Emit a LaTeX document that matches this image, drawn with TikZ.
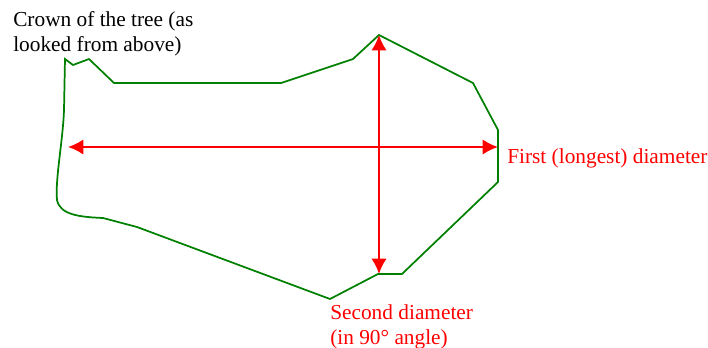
\documentclass[tikz,border=0pt]{standalone}
\usepackage{fontspec}
\setmainfont{Liberation Serif}
\usetikzlibrary{arrows.meta,positioning}
\definecolor{crowngreen}{RGB}{0,128,0}
\tikzset{
  crown/.style={draw=crowngreen, line width=1.3pt, line join=miter},
  diam/.style={{Latex[length=11.5pt,width=11.5pt]}-{Latex[length=11.5pt,width=11.5pt]}, red, line width=1.5pt},
  note/.style={font=\fontsize{16}{18.75}\selectfont, align=left, inner sep=0pt}
}
\begin{document}
\begin{tikzpicture}[x=0.75pt,y=-0.75pt]
  \useasboundingbox (0,0) rectangle (708,347);
  % outline of the crown
  \draw[crown] (65,59) -- (73,65) -- (89,59) -- (114,83) -- (281,83) -- (353,59)
    -- (379,35) -- (473,83) -- (498,130) -- (498,182) -- (402,274) -- (378,274)
    -- (330,299) -- (137,227) -- (103,218)
    .. controls (80,217) and (60,215) .. (57,200)
    .. controls (55,180) and (63,140) .. (64,110) -- cycle;
  % the two diameters
  \coordinate (lft) at (68,147);
  \coordinate (rgt) at (498,147);
  \coordinate (top) at (379,35);
  \coordinate (bot) at (379,274);
  \draw[diam] (lft) -- (rgt);
  \draw[diam] (bot) -- (top);
  % labels
  \node[note, anchor=north west] (crownlbl) at (13,11) {Crown of the tree (as\\looked from above)};
  \node[note, anchor=west, text=red] (firstlbl) at (507,158) {First (longest) diameter};
  \node[note, anchor=north west, text=red] (secondlbl) at (330,304) {Second diameter\\(in 90° angle)};
\end{tikzpicture}
\end{document}
